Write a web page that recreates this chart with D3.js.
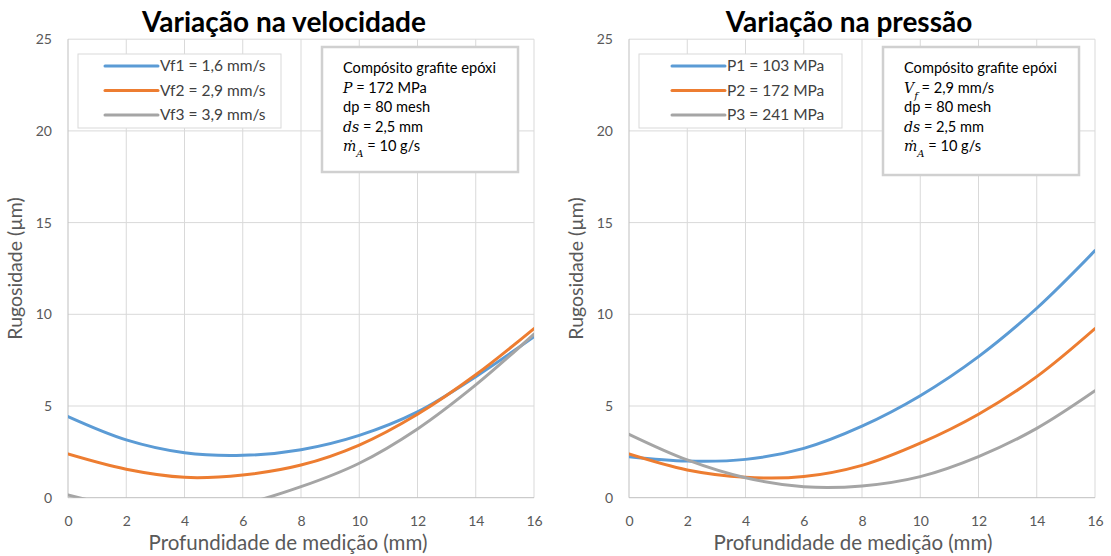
<!DOCTYPE html>
<html>
<head>
<meta charset="utf-8">
<script src="https://cdn.jsdelivr.net/npm/d3@7"></script>
<style>
  body { margin: 0; background: #fff; }
  svg { font-family: Lato, "Open Sans", sans-serif; }
</style>
</head>
<body>
<div id="container"></div>
<script>
/**
 * DATA
 * */
const depth = [0, 2, 4, 6, 8, 10, 12, 14, 16];
const yTicks = [0, 5, 10, 15, 20, 25];
const xTicks = [0, 2, 4, 6, 8, 10, 12, 14, 16];

// left chart: variation in feed speed
const velNames = ["Vf1 = 1,6 mm/s", "Vf2 = 2,9 mm/s", "Vf3 = 3,9 mm/s"];
const vf1 = [4.42, 3.15, 2.45, 2.31, 2.62, 3.40, 4.68, 6.60, 8.78];
const vf2 = [2.38, 1.55, 1.11, 1.24, 1.78, 2.87, 4.55, 6.70, 9.22];
const vf3 = [0.15, -0.55, -0.80, -0.35, 0.60, 1.88, 3.75, 6.15, 8.92];

// right chart: variation in pressure
const presNames = ["P1 = 103 MPa", "P2 = 172 MPa", "P3 = 241 MPa"];
const p1 = [2.24, 2.00, 2.09, 2.69, 3.90, 5.56, 7.69, 10.33, 13.47];
const p2 = [2.38, 1.51, 1.11, 1.15, 1.76, 2.97, 4.55, 6.60, 9.22];
const p3 = [3.46, 2.06, 1.09, 0.60, 0.64, 1.15, 2.24, 3.78, 5.83];

const colors = ["#5B9BD5", "#ED7D31", "#A5A5A5"];

/**
 * CONSTANTS
 * */
const width = 1111, height = 556;
const plotTop = 39.2, plotBottom = 497.7;

const svg = d3.select("#container")
  .append("svg")
  .attr("width", width)
  .attr("height", height);

function drawPanel(opt) {
  const x = d3.scaleLinear().domain([0, 16]).range([opt.left, opt.right]);
  const y = d3.scaleLinear().domain([0, 25]).range([plotBottom, plotTop]);
  const g = svg.append("g");

  // gridlines
  g.selectAll(".gx").data(xTicks.slice(1)).join("line")
    .attr("x1", d => x(d)).attr("x2", d => x(d))
    .attr("y1", plotTop).attr("y2", plotBottom)
    .attr("stroke", "#d9d9d9").attr("stroke-width", 1);
  g.selectAll(".gy").data(yTicks.slice(1)).join("line")
    .attr("x1", opt.left).attr("x2", opt.right)
    .attr("y1", d => y(d)).attr("y2", d => y(d))
    .attr("stroke", "#d9d9d9").attr("stroke-width", 1);

  // axis lines
  g.append("line").attr("x1", opt.left).attr("x2", opt.left)
    .attr("y1", plotTop).attr("y2", plotBottom).attr("stroke", "#bfbfbf");
  g.append("line").attr("x1", opt.left).attr("x2", opt.right)
    .attr("y1", plotBottom).attr("y2", plotBottom).attr("stroke", "#bfbfbf");

  // tick labels
  const xAxis = g.append("g").attr("transform", `translate(0,${plotBottom})`)
    .call(d3.axisBottom(x).tickValues(xTicks).tickSize(0).tickPadding(18));
  const yAxis = g.append("g").attr("transform", `translate(${opt.left},0)`)
    .call(d3.axisLeft(y).tickValues(yTicks).tickSize(0).tickPadding(16));
  [xAxis, yAxis].forEach(a => {
    a.select(".domain").remove();
    a.selectAll("text").attr("font-size", 14).attr("fill", "#595959")
      .attr("font-family", "Lato, sans-serif");
  });

  // curves, clipped to the plot area
  const clipId = "clip" + opt.id;
  svg.append("clipPath").attr("id", clipId).append("rect")
    .attr("x", opt.left).attr("y", plotTop)
    .attr("width", opt.right - opt.left).attr("height", plotBottom - plotTop);

  const line = d3.line()
    .x((d, i) => x(depth[i]))
    .y(d => y(d))
    .curve(d3.curveCatmullRom.alpha(0.5));

  g.append("g").attr("clip-path", `url(#${clipId})`)
    .selectAll("path").data(opt.series).join("path")
    .attr("d", d => line(d))
    .attr("fill", "none")
    .attr("stroke", (d, i) => colors[i])
    .attr("stroke-width", 3)
    .attr("stroke-linecap", "round");

  // titles
  svg.append("text").attr("x", opt.titleX).attr("y", 32)
    .attr("text-anchor", "middle").attr("font-size", 28).attr("font-weight", "bold")
    .attr("fill", "#000").text(opt.title);
  svg.append("text").attr("x", opt.titleX + 4).attr("y", 550)
    .attr("text-anchor", "middle").attr("font-size", 20.5).attr("fill", "#595959")
    .text("Profundidade de medição (mm)");
  svg.append("text")
    .attr("transform", `translate(${opt.left - 46},${(plotTop + plotBottom) / 2}) rotate(-90)`)
    .attr("text-anchor", "middle").attr("font-size", 19.5).attr("fill", "#595959")
    .text("Rugosidade (µm)");

  // legend
  const lg = svg.append("g");
  lg.append("rect").attr("x", opt.legX).attr("y", 54).attr("width", 203).attr("height", 74)
    .attr("fill", "#fff").attr("stroke", "#d9d9d9");
  opt.names.forEach((n, i) => {
    const ly = 66 + i * 24.5;
    lg.append("line").attr("x1", opt.legX + opt.legPad).attr("x2", opt.legX + opt.legPad + 53)
      .attr("y1", ly).attr("y2", ly)
      .attr("stroke", colors[i]).attr("stroke-width", 3).attr("stroke-linecap", "round");
    lg.append("text").attr("x", opt.legX + opt.legPad + 55).attr("y", ly + 5)
      .attr("font-size", 15.5).attr("fill", "#404040").text(n);
  });

  // annotation box
  const ab = svg.append("g");
  ab.append("rect").attr("x", opt.boxX).attr("y", 47).attr("width", 196).attr("height", opt.boxH)
    .attr("fill", "#fff").attr("stroke", "#d0d0d0").attr("stroke-width", 2.5);
  const tx = opt.boxX + 21;
  const lines = ab.selectAll("text").data(opt.note).join("text")
    .attr("x", tx).attr("y", (d, i) => 73 + i * 19.5)
    .attr("font-size", 14.6).attr("fill", "#000");
  lines.each(function (parts) {
    const t = d3.select(this);
    parts.forEach(p => {
      const s = t.append("tspan").text(p.t);
      if (p.m) s.attr("font-family", "DejaVu Serif, serif").attr("font-style", "italic").attr("font-size", 14);
      if (p.sub) s.attr("baseline-shift", "sub").attr("font-size", 10);
    });
  });
}

const noteCommon = [
  [{t: "dp = 80 mesh"}],
  [{t: "ds", m: true}, {t: " = 2,5 mm"}],
  [{t: "ṁ", m: true}, {t: "A", m: true, sub: true}, {t: " = 10 g/s"}]
];

drawPanel({
  id: "L", left: 68, right: 534, titleX: 284,
  title: "Variação na velocidade",
  series: [vf1, vf2, vf3], names: velNames,
  legX: 78, legPad: 27, boxX: 322, boxH: 125,
  note: [[{t: "Compósito grafite epóxi"}], [{t: "P", m: true}, {t: " = 172 MPa"}]].concat(noteCommon)
});

drawPanel({
  id: "R", left: 629, right: 1095, titleX: 849,
  title: "Variação na pressão",
  series: [p1, p2, p3], names: presNames,
  legX: 639, legPad: 33, boxX: 883, boxH: 128,
  note: [[{t: "Compósito grafite epóxi"}], [{t: "V", m: true}, {t: "f", m: true, sub: true}, {t: " = 2,9 mm/s"}]].concat(noteCommon)
});
</script>
</body>
</html>
